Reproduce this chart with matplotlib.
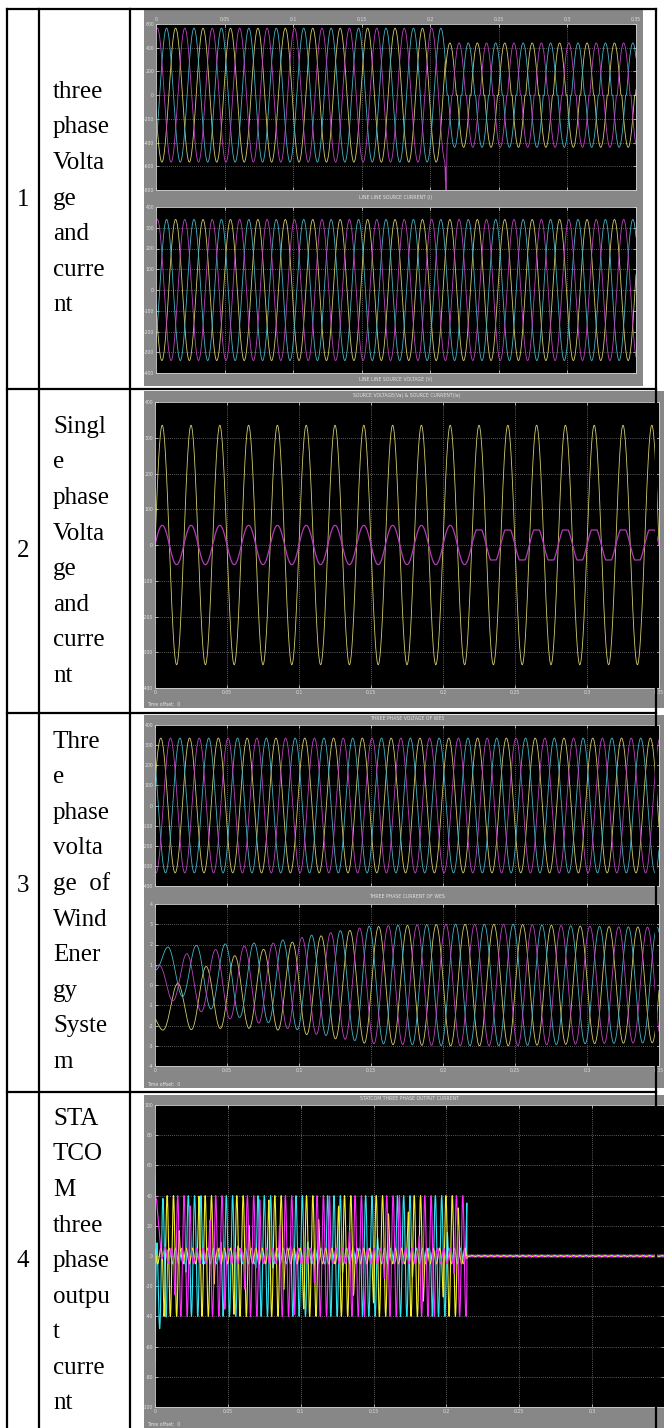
import numpy as np
import matplotlib
matplotlib.use('Agg')
import matplotlib.pyplot as plt
from matplotlib.lines import Line2D
from matplotlib.patches import Rectangle

# ---------------- data ----------------
row_numbers = ['1', '2', '3', '4']
row_labels = [
    ['three', 'phase', 'Volta', 'ge', 'and', 'curre', 'nt'],
    ['Singl', 'e', 'phase', 'Volta', 'ge', 'and', 'curre', 'nt'],
    ['Thre', 'e', 'phase', 'volta', 'ge  of', 'Wind', 'Ener', 'gy', 'Syste', 'm'],
    ['STA', 'TCO', 'M', 'three', 'phase', 'outpu', 't', 'curre', 'nt'],
]

freq_hz = 50.0
t_end = 0.35
x_ticks = [0, 0.05, 0.1, 0.15, 0.2, 0.25, 0.3, 0.35]
x_tick_labels = ['0', '0.05', '0.1', '0.15', '0.2', '0.25', '0.3', '0.35']

# plot 1 : line-line source voltage / current
p1_event_t = 0.211
p1u_amp_pre = 565.0
p1u_amp_post = 440.0
p1u_spike_value = -780.0
p1u_yticks = [600, 400, 200, 0, -200, -400, -600, -800]
p1l_amp = 340.0
p1l_yticks = [400, 300, 200, 100, 0, -100, -200, -300, -400]
p1_peak_times = {'magenta': 0.001, 'cyan': 0.0077, 'yellow': 0.0143}

# plot 2 : single phase voltage & current
p2_v_amp = 335.0
p2_i_amp_pre = 55.0
p2_i_amp_post = 52.0
p2_i_clip_post = 42.0
p2_event_t = 0.22
p2_peak_time = 0.005
p2_yticks = [400, 300, 200, 100, 0, -100, -200, -300, -400]

# plot 3 : WES voltage / current
p3u_amp = 335.0
p3u_peak_times = {'yellow': 0.004, 'magenta': 0.0107, 'cyan': 0.0173}
p3u_yticks = [400, 300, 200, 100, 0, -100, -200, -300, -400]
p3l_env_t = [0, 0.01, 0.02, 0.05, 0.08, 0.10, 0.12, 0.15, 0.20, 0.25, 0.30, 0.35]
p3l_env_a = [0.5, 1.0, 1.3, 1.75, 2.0, 2.3, 2.55, 2.9, 3.0, 3.0, 2.9, 2.85]
p3l_dc0 = {'yellow': -1.7, 'magenta': 0.4, 'cyan': 1.2}
p3l_dc_tau = 0.035
p3l_peak_times = {'magenta': 0.002, 'cyan': 0.0087, 'yellow': 0.0153}
p3l_yticks = [4, 3, 2, 1, 0, -1, -2, -3, -4]

# plot 4 : STATCOM current
p4_amp = 40.0
p4_stop_t = 0.214
p4_residual = 0.6
p4_carrier_hz = 230.0
p4_band_period = 0.024
p4_band_offset = {'cyan': 0.003, 'yellow': 0.011, 'magenta': 0.019}
p4_idle_level = 0.13
p4_init_spike = {'magenta': 85.0, 'cyan': -70.0, 'yellow': 0.0}
p4_yticks = [100, 80, 60, 40, 20, 0, -20, -40, -60, -80, -100]

soft = {'yellow': '#d3cc6c', 'magenta': '#bd44c0', 'cyan': '#48b3c3'}
vivid = {'yellow': '#f2ee2a', 'magenta': '#ff2cff', 'cyan': '#2fe4f2'}

# ---------------- figure ----------------
W, H = 664, 1428
fig = plt.figure(figsize=(W / 100, H / 100), dpi=100)
fig.patch.set_facecolor('white')


def box(x0, y0, x1, y1):
    return [x0 / W, 1 - y1 / H, (x1 - x0) / W, (y1 - y0) / H]


def gray_panel(x0, y0, x1, y1):
    fig.add_artist(Rectangle((x0 / W, 1 - y1 / H), (x1 - x0) / W, (y1 - y0) / H,
                             transform=fig.transFigure, facecolor='#878787',
                             edgecolor='none', zorder=-5))


def tiny(x, y, s, ha='center'):
    fig.text(x / W, 1 - y / H, s, fontsize=3.3, color='#e4e4e4', ha=ha, va='center',
             family='DejaVu Sans')


def scope(rect, ylim, yticks, xmax=t_end, xlabels='bottom', xt=None):
    xt = x_ticks if xt is None else xt
    ax = fig.add_axes(box(*rect))
    ax.set_facecolor('black')
    ax.set_xlim(0, xmax)
    ax.set_ylim(*ylim)
    ax.set_xticks(xt)
    ax.set_yticks(yticks)
    ax.set_yticklabels([str(v) for v in yticks])
    if xlabels == 'none':
        ax.set_xticklabels([])
    else:
        ax.set_xticklabels(x_tick_labels[:len(xt)])
    ax.grid(True, color='#b0b0b0', linestyle=(0, (1, 2)), linewidth=0.5)
    ax.tick_params(colors='#e0e0e0', labelsize=3.3, length=2, width=0.5,
                   direction='in', right=True, top=True, pad=1.5)
    if xlabels == 'top':
        ax.tick_params(labeltop=True, labelbottom=False)
    for s in ax.spines.values():
        s.set_color('#cfcfcf')
        s.set_linewidth(0.6)
    return ax


t = np.linspace(0, t_end, 40000)


def phase_sin(tp, f=freq_hz):
    return np.sin(2 * np.pi * f * (t - tp) + np.pi / 2)


# ---------- plot 1 ----------
gray_panel(144, 9, 643, 386)
ax1u = scope((156, 24, 636, 190), (-800, 600), p1u_yticks, xlabels='top')
for c in ['yellow', 'cyan', 'magenta']:
    s = phase_sin(p1_peak_times[c])
    pre = p1u_amp_pre * s
    dz = np.sign(s) * np.clip((np.abs(s) - 0.12) / 0.88, 0, None)
    post = p1u_amp_post * dz
    y = np.where(t < p1_event_t, pre, post)
    if c == 'magenta':
        y = y + p1u_spike_value * np.exp(-((t - p1_event_t - 0.0005) / 0.0004) ** 2)
    ax1u.plot(t, y, color=soft[c], lw=0.6)
tiny((156 + 636) / 2, 198, 'LINE LINE SOURCE CURRENT (I)')

ax1l = scope((156, 207, 636, 373), (-400, 400), p1l_yticks, xlabels='none')
for c in ['yellow', 'cyan', 'magenta']:
    ax1l.plot(t, p1l_amp * phase_sin(p1_peak_times[c]), color=soft[c], lw=0.6)
tiny((156 + 636) / 2, 380, 'LINE LINE SOURCE VOLTAGE (V)')

# ---------- plot 2 ----------
gray_panel(144, 391, 664, 708)
ax2 = scope((155, 402, 659, 688), (-400, 400), p2_yticks)
s2 = phase_sin(p2_peak_time)
ax2.plot(t, p2_v_amp * s2, color=soft['yellow'], lw=0.6)
i2 = np.where(t < p2_event_t, p2_i_amp_pre * s2,
              np.clip(p2_i_amp_post * s2, -p2_i_clip_post, p2_i_clip_post))
ax2.plot(t, i2, color='#b23ab8', lw=0.9)
tiny((155 + 659) / 2, 396, 'SOURCE VOLTAGE(Va) & SOURCE CURRENT(Ia)')
tiny(147, 704, 'Time offset:  0', ha='left')

# ---------- plot 3 ----------
gray_panel(144, 715, 664, 1088)
ax3u = scope((155, 725, 659, 886), (-400, 400), p3u_yticks, xlabels='none')
for c in ['yellow', 'cyan', 'magenta']:
    ax3u.plot(t, p3u_amp * phase_sin(p3u_peak_times[c]), color=soft[c], lw=0.6)
tiny((155 + 659) / 2, 719, 'THREE PHASE VOLTAGE OF WES')

ax3l = scope((155, 904, 659, 1066), (-4, 4), p3l_yticks)
env = np.interp(t, p3l_env_t, p3l_env_a)
for c in ['yellow', 'cyan', 'magenta']:
    y = env * phase_sin(p3l_peak_times[c]) + p3l_dc0[c] * np.exp(-t / p3l_dc_tau)
    ax3l.plot(t, y, color=soft[c], lw=0.6)
tiny((155 + 659) / 2, 897, 'THREE PHASE CURRENT OF WES')
tiny(147, 1085, 'Time offset:  0', ha='left')

# ---------- plot 4 ----------
gray_panel(144, 1095, 664, 1428)
xmax4 = t_end * (664 - 155) / (665 - 155)
ax4 = scope((155, 1105, 664, 1407), (-100, 100), p4_yticks, xmax=xmax4,
            xt=x_ticks[:-1])
for k, c in enumerate(['cyan', 'yellow', 'magenta']):
    band = np.cos(2 * np.pi * (t - p4_band_offset[c]) / p4_band_period)
    gate = np.clip((band + 0.1) / 0.4, p4_idle_level, 1.0)
    carrier = np.sin(2 * np.pi * p4_carrier_hz * t + k * 2.1)
    y = np.where(t < p4_stop_t, p4_amp * gate * carrier, p4_residual * carrier)
    y = y + p4_init_spike[c] * np.exp(-t / 0.0015)
    ax4.plot(t, y, color=vivid[c], lw=0.8)
tiny((155 + 664) / 2, 1099, 'STATCOM THREE PHASE OUTPUT CURRENT')
tiny(147, 1424, 'Time offset:  0', ha='left')

# ---------------- table text ----------------
font = 'Liberation Serif'
fs = 18
line_h = 35.5
first_line_y = [92, 427, 742, 1119]
number_y = [200, 551, 886, 1261]
for r in range(4):
    for i, s in enumerate(row_labels[r]):
        fig.text(53 / W, 1 - (first_line_y[r] + i * line_h) / H, s, fontsize=fs,
                 family=font, ha='left', va='center', color='black')
    fig.text(23 / W, 1 - number_y[r] / H, row_numbers[r], fontsize=fs, family=font,
             ha='center', va='center', color='black')

# ---------------- table lines ----------------
lw = 1.6


def fline(x0, y0, x1, y1):
    fig.add_artist(Line2D([x0 / W, x1 / W], [1 - y0 / H, 1 - y1 / H],
                          transform=fig.transFigure, color='black', lw=lw, zorder=20,
                          solid_capstyle='projecting'))


for x in [7, 39, 130, 656]:
    fline(x, 9, x, H)
for y in [9, 389, 713, 1092]:
    fline(7, y, 656, y)

fig.savefig('out.png', dpi=100, facecolor='white')
